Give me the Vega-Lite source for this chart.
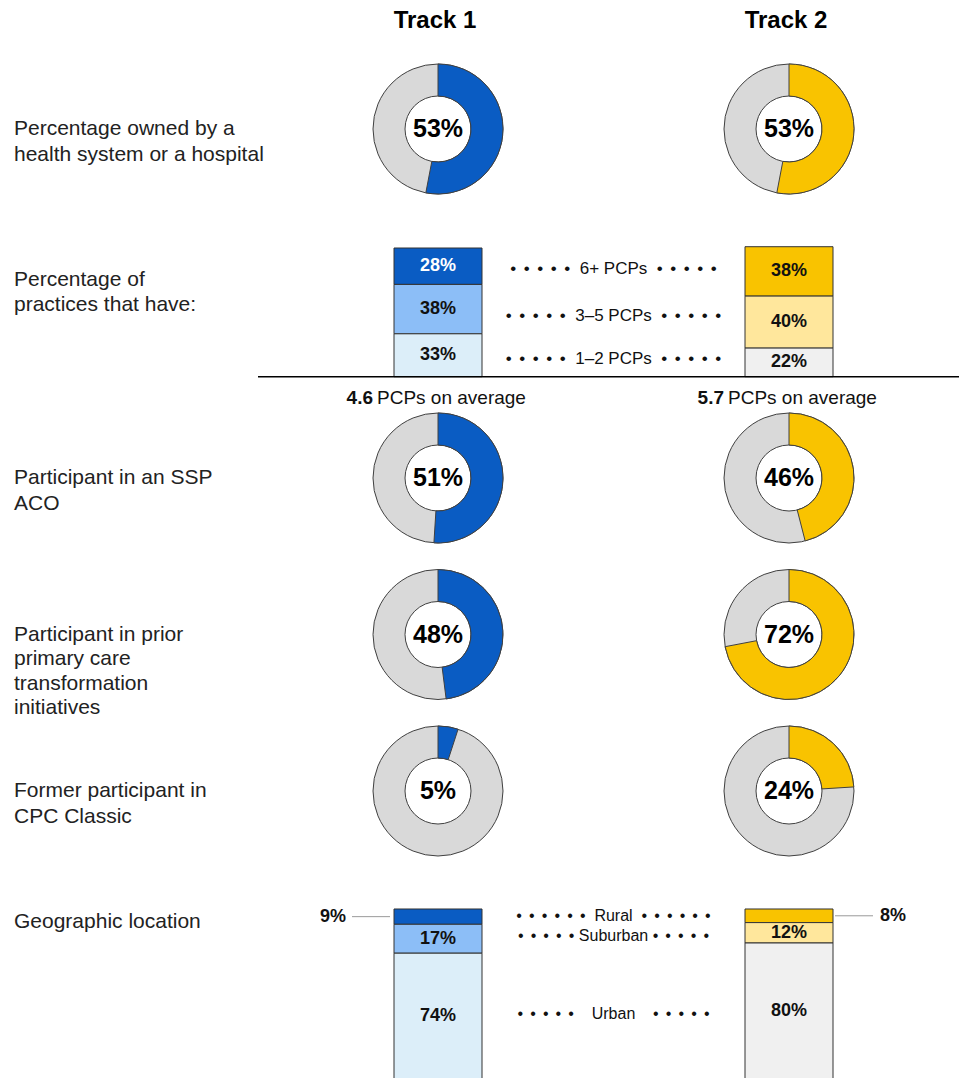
{
  "$schema": "https://vega.github.io/schema/vega-lite/v6.json",
  "background": "white",
  "padding": {"left": 14, "top": 0, "right": 0, "bottom": 0},
  "bounds": "flush",
  "spacing": 0,
  "config": {"view": {"stroke": null}, "concat": {"spacing": 0}, "text": {"color": "#111111"}},
  "datasets": {
    "donuts": [
      {"row": "owned", "track": "Track 1", "share": 0.53},
      {"row": "owned", "track": "Track 2", "share": 0.53},
      {"row": "ssp", "track": "Track 1", "share": 0.51},
      {"row": "ssp", "track": "Track 2", "share": 0.46},
      {"row": "prior", "track": "Track 1", "share": 0.48},
      {"row": "prior", "track": "Track 2", "share": 0.72},
      {"row": "cpc", "track": "Track 1", "share": 0.05},
      {"row": "cpc", "track": "Track 2", "share": 0.24}
    ],
    "practices": [
      {"track": "Track 1", "cat": "6+ PCPs", "share": 0.28},
      {"track": "Track 1", "cat": "3–5 PCPs", "share": 0.38},
      {"track": "Track 1", "cat": "1–2 PCPs", "share": 0.33},
      {"track": "Track 2", "cat": "6+ PCPs", "share": 0.38},
      {"track": "Track 2", "cat": "3–5 PCPs", "share": 0.40},
      {"track": "Track 2", "cat": "1–2 PCPs", "share": 0.22}
    ],
    "geo": [
      {"track": "Track 1", "cat": "Rural", "share": 0.09},
      {"track": "Track 1", "cat": "Suburban", "share": 0.17},
      {"track": "Track 1", "cat": "Urban", "share": 0.74},
      {"track": "Track 2", "cat": "Rural", "share": 0.08},
      {"track": "Track 2", "cat": "Suburban", "share": 0.12},
      {"track": "Track 2", "cat": "Urban", "share": 0.80}
    ],
    "averages": [
      {"track": "Track 1", "avg": 4.6},
      {"track": "Track 2", "avg": 5.7}
    ]
  },
  "vconcat": [
    {
      "width": 945, "height": 42,
      "data": {"values": [{"track": "Track 1"}, {"track": "Track 2"}]},
      "mark": {"type": "text", "font": "Liberation Sans, Arial, sans-serif", "fontWeight": "bold", "fontSize": 24, "baseline": "middle", "color": "#000000", "dx": -3},
      "encoding": {
        "x": {"field": "track", "type": "nominal", "scale": {"type": "point", "domain": ["Track 1", "between", "Track 2"], "range": [424, 775], "padding": 0}, "axis": null},
        "text": {"field": "track"}
      }
    },
    {
      "width": 945, "height": 174,
      "resolve": {"scale": {"x": "independent"}},
      "layer": [
        {"data": {"values": [{"label": "Percentage owned by a\nhealth system or a hospital"}]},
         "mark": {"type": "text", "align": "left", "baseline": "middle", "lineBreak": "\n", "fontSize": 21, "lineHeight": 25.5, "font": "Liberation Sans, Arial, sans-serif", "color": "#222222"},
         "encoding": {"x": {"datum": 0, "type": "quantitative", "scale": {"domain": [0, 1]}, "axis": null}, "text": {"field": "label"}}},
        {"data": {"name": "donuts"}, "transform": [{"filter": "datum.row === 'owned'"}],
         "mark": {"type": "arc", "outerRadius": 65, "innerRadius": 33, "fill": "#D9D9D9", "stroke": "#404040", "strokeWidth": 1},
         "encoding": {"x": {"field": "track", "type": "nominal", "scale": {"type": "point", "domain": ["Track 1", "between", "Track 2"], "range": [424, 775], "padding": 0}, "axis": null}}},
        {"data": {"name": "donuts"}, "transform": [{"filter": "datum.row === 'owned'"}],
         "mark": {"type": "arc", "outerRadius": 65, "innerRadius": 33, "stroke": "#404040", "strokeWidth": 1},
         "encoding": {
           "x": {"field": "track", "type": "nominal", "scale": {"type": "point", "domain": ["Track 1", "between", "Track 2"], "range": [424, 775], "padding": 0}, "axis": null},
           "theta": {"field": "share", "type": "quantitative", "stack": null, "scale": {"domain": [0, 1]}},
           "fill": {"field": "track", "type": "nominal", "scale": {"domain": ["Track 1", "Track 2"], "range": ["#0A5CC3", "#F9C300"]}, "legend": null}
         }},
        {"data": {"name": "donuts"}, "transform": [{"filter": "datum.row === 'owned'"}],
         "mark": {"type": "text", "font": "Liberation Sans, Arial, sans-serif", "fontWeight": "bold", "fontSize": 25, "baseline": "middle", "color": "#000000"},
         "encoding": {
           "x": {"field": "track", "type": "nominal", "scale": {"type": "point", "domain": ["Track 1", "between", "Track 2"], "range": [424, 775], "padding": 0}, "axis": null},
           "text": {"field": "share", "type": "quantitative", "format": ".0%"}
         }}
      ]
    },
    {
      "width": 945, "height": 127,
      "resolve": {"scale": {"x": "independent"}},
      "layer": [
        {"data": {"values": [{"label": "Percentage of\npractices that have:"}]},
         "mark": {"type": "text", "align": "left", "baseline": "middle", "lineBreak": "\n", "fontSize": 21, "lineHeight": 25.5, "font": "Liberation Sans, Arial, sans-serif", "color": "#222222"},
         "encoding": {"x": {"datum": 0, "type": "quantitative", "scale": {"domain": [0, 1]}, "axis": null}, "text": {"field": "label"}}},
        {"data": {"name": "practices"},
         "transform": [{"stack": "share", "groupby": ["track"], "sort": [{"field": "cat", "order": "ascending"}], "as": ["v0", "v1"]}],
         "mark": {"type": "bar", "width": 88, "stroke": "#333333", "strokeWidth": 1},
         "encoding": {
           "x": {"field": "track", "type": "nominal", "scale": {"type": "point", "domain": ["Track 1", "between", "Track 2"], "range": [424, 775], "padding": 0}, "axis": null},
           "y": {"field": "v0", "type": "quantitative", "scale": {"domain": [0.2593, 1.2362], "nice": false, "zero": false}, "axis": null},
           "y2": {"field": "v1"},
           "fill": {"condition": [
             {"test": "datum.track === 'Track 1' && datum.cat === '6+ PCPs'", "value": "#0A5CC3"},
             {"test": "datum.track === 'Track 1' && datum.cat === '3–5 PCPs'", "value": "#8CBEF7"},
             {"test": "datum.track === 'Track 1'", "value": "#DCEEF9"},
             {"test": "datum.cat === '6+ PCPs'", "value": "#F9C300"},
             {"test": "datum.cat === '3–5 PCPs'", "value": "#FFE79C"}
           ], "value": "#F0F0F0"}
         }},
        {"data": {"values": [{}]},
         "mark": {"type": "rule", "stroke": "#000000", "strokeWidth": 1.5, "xOffset": -180, "x2Offset": 170},
         "encoding": {
           "x": {"datum": "Track 1", "type": "nominal", "scale": {"type": "point", "domain": ["Track 1", "between", "Track 2"], "range": [424, 775], "padding": 0}, "axis": null},
           "x2": {"datum": "Track 2"},
           "y": {"datum": 0, "type": "quantitative", "scale": {"domain": [0.2593, 1.2362], "nice": false, "zero": false}, "axis": null}
         }},
        {"data": {"name": "practices"},
         "transform": [
           {"stack": "share", "groupby": ["track"], "sort": [{"field": "cat", "order": "ascending"}], "as": ["v0", "v1"]},
           {"fold": ["v0", "v1"], "as": ["edge", "pos"]},
           {"aggregate": [{"op": "mean", "field": "pos", "as": "mid"}, {"op": "max", "field": "share", "as": "share"}], "groupby": ["track", "cat"]}
         ],
         "mark": {"type": "text", "font": "Liberation Sans, Arial, sans-serif", "fontWeight": "bold", "fontSize": 18, "baseline": "middle"},
         "encoding": {
           "x": {"field": "track", "type": "nominal", "scale": {"type": "point", "domain": ["Track 1", "between", "Track 2"], "range": [424, 775], "padding": 0}, "axis": null},
           "y": {"field": "mid", "type": "quantitative", "scale": {"domain": [0.2593, 1.2362], "nice": false, "zero": false}, "axis": null},
           "text": {"field": "share", "type": "quantitative", "format": ".0%"},
           "color": {"condition": {"test": "datum.track === 'Track 1' && datum.cat === '6+ PCPs'", "value": "#FFFFFF"}, "value": "#111111"}
         }},
        {"data": {"name": "practices"},
         "transform": [
           {"stack": "share", "groupby": ["track"], "sort": [{"field": "cat", "order": "ascending"}], "as": ["v0", "v1"]},
           {"fold": ["v0", "v1"], "as": ["edge", "pos"]},
           {"aggregate": [{"op": "mean", "field": "pos", "as": "mid"}], "groupby": ["cat"]}
         ],
         "mark": {"type": "text", "font": "Liberation Sans, Arial, sans-serif", "fontSize": 17, "baseline": "middle", "color": "#111111",
                  "text": {"expr": "'\u2022 \u2006\u2022 \u2006\u2022 \u2006\u2022 \u2006\u2022\u00a0 ' + datum.cat + ' \u00a0\u2022 \u2006\u2022 \u2006\u2022 \u2006\u2022 \u2006\u2022'"}},
         "encoding": {
           "x": {"datum": "between", "type": "nominal", "scale": {"type": "point", "domain": ["Track 1", "between", "Track 2"], "range": [424, 775], "padding": 0}, "axis": null},
           "y": {"field": "mid", "type": "quantitative", "scale": {"domain": [0.2593, 1.2362], "nice": false, "zero": false}, "axis": null}
         }}
      ]
    },
    {
      "width": 945, "height": 110,
      "data": {"name": "averages"},
      "layer": [
        {"mark": {"type": "text", "align": "right", "dx": -65, "fontWeight": "bold", "fontSize": 19, "font": "Liberation Sans, Arial, sans-serif", "baseline": "middle"},
         "encoding": {
           "x": {"field": "track", "type": "nominal", "scale": {"type": "point", "domain": ["Track 1", "between", "Track 2"], "range": [424, 775], "padding": 0}, "axis": null},
           "text": {"field": "avg", "type": "quantitative", "format": ".1f"}
         }},
        {"mark": {"type": "text", "align": "left", "dx": -61, "fontSize": 19, "font": "Liberation Sans, Arial, sans-serif", "baseline": "middle", "text": "PCPs on average"},
         "encoding": {
           "x": {"field": "track", "type": "nominal", "scale": {"type": "point", "domain": ["Track 1", "between", "Track 2"], "range": [424, 775], "padding": 0}, "axis": null}
         }}
      ]
    },
    {
      "width": 945, "height": 50,
      "resolve": {"scale": {"x": "independent"}},
      "layer": [
        {"data": {"values": [{"label": "Participant in an SSP\nACO"}]},
         "mark": {"type": "text", "align": "left", "baseline": "middle", "lineBreak": "\n", "fontSize": 21, "lineHeight": 25.5, "font": "Liberation Sans, Arial, sans-serif", "color": "#222222"},
         "encoding": {"x": {"datum": 0, "type": "quantitative", "scale": {"domain": [0, 1]}, "axis": null}, "text": {"field": "label"}}},
        {"data": {"name": "donuts"}, "transform": [{"filter": "datum.row === 'ssp'"}],
         "mark": {"type": "arc", "outerRadius": 65, "innerRadius": 33, "fill": "#D9D9D9", "stroke": "#404040", "strokeWidth": 1},
         "encoding": {"x": {"field": "track", "type": "nominal", "scale": {"type": "point", "domain": ["Track 1", "between", "Track 2"], "range": [424, 775], "padding": 0}, "axis": null}}},
        {"data": {"name": "donuts"}, "transform": [{"filter": "datum.row === 'ssp'"}],
         "mark": {"type": "arc", "outerRadius": 65, "innerRadius": 33, "stroke": "#404040", "strokeWidth": 1},
         "encoding": {
           "x": {"field": "track", "type": "nominal", "scale": {"type": "point", "domain": ["Track 1", "between", "Track 2"], "range": [424, 775], "padding": 0}, "axis": null},
           "theta": {"field": "share", "type": "quantitative", "stack": null, "scale": {"domain": [0, 1]}},
           "fill": {"field": "track", "type": "nominal", "scale": {"domain": ["Track 1", "Track 2"], "range": ["#0A5CC3", "#F9C300"]}, "legend": null}
         }},
        {"data": {"name": "donuts"}, "transform": [{"filter": "datum.row === 'ssp'"}],
         "mark": {"type": "text", "font": "Liberation Sans, Arial, sans-serif", "fontWeight": "bold", "fontSize": 25, "baseline": "middle", "color": "#000000"},
         "encoding": {
           "x": {"field": "track", "type": "nominal", "scale": {"type": "point", "domain": ["Track 1", "between", "Track 2"], "range": [424, 775], "padding": 0}, "axis": null},
           "text": {"field": "share", "type": "quantitative", "format": ".0%"}
         }}
      ]
    },
    {
      "width": 945, "height": 263,
      "resolve": {"scale": {"x": "independent"}},
      "layer": [
        {"data": {"values": [{"label": "Participant in prior\nprimary care\ntransformation\ninitiatives"}]},
         "mark": {"type": "text", "align": "left", "baseline": "middle", "lineBreak": "\n", "fontSize": 21, "lineHeight": 24.5, "font": "Liberation Sans, Arial, sans-serif", "color": "#222222"},
         "encoding": {"x": {"datum": 0, "type": "quantitative", "scale": {"domain": [0, 1]}, "axis": null}, "text": {"field": "label"}}},
        {"data": {"name": "donuts"}, "transform": [{"filter": "datum.row === 'prior'"}],
         "mark": {"type": "arc", "outerRadius": 65, "innerRadius": 33, "fill": "#D9D9D9", "stroke": "#404040", "strokeWidth": 1},
         "encoding": {"x": {"field": "track", "type": "nominal", "scale": {"type": "point", "domain": ["Track 1", "between", "Track 2"], "range": [424, 775], "padding": 0}, "axis": null}}},
        {"data": {"name": "donuts"}, "transform": [{"filter": "datum.row === 'prior'"}],
         "mark": {"type": "arc", "outerRadius": 65, "innerRadius": 33, "stroke": "#404040", "strokeWidth": 1},
         "encoding": {
           "x": {"field": "track", "type": "nominal", "scale": {"type": "point", "domain": ["Track 1", "between", "Track 2"], "range": [424, 775], "padding": 0}, "axis": null},
           "theta": {"field": "share", "type": "quantitative", "stack": null, "scale": {"domain": [0, 1]}},
           "fill": {"field": "track", "type": "nominal", "scale": {"domain": ["Track 1", "Track 2"], "range": ["#0A5CC3", "#F9C300"]}, "legend": null}
         }},
        {"data": {"name": "donuts"}, "transform": [{"filter": "datum.row === 'prior'"}],
         "mark": {"type": "text", "font": "Liberation Sans, Arial, sans-serif", "fontWeight": "bold", "fontSize": 25, "baseline": "middle", "color": "#000000"},
         "encoding": {
           "x": {"field": "track", "type": "nominal", "scale": {"type": "point", "domain": ["Track 1", "between", "Track 2"], "range": [424, 775], "padding": 0}, "axis": null},
           "text": {"field": "share", "type": "quantitative", "format": ".0%"}
         }}
      ]
    },
    {
      "width": 945, "height": 50,
      "resolve": {"scale": {"x": "independent"}},
      "layer": [
        {"data": {"values": [{"label": "Former participant in\nCPC Classic"}]},
         "mark": {"type": "text", "align": "left", "baseline": "middle", "lineBreak": "\n", "fontSize": 21, "lineHeight": 25.5, "font": "Liberation Sans, Arial, sans-serif", "color": "#222222"},
         "encoding": {"x": {"datum": 0, "type": "quantitative", "scale": {"domain": [0, 1]}, "axis": null}, "text": {"field": "label"}}},
        {"data": {"name": "donuts"}, "transform": [{"filter": "datum.row === 'cpc'"}],
         "mark": {"type": "arc", "outerRadius": 65, "innerRadius": 33, "fill": "#D9D9D9", "stroke": "#404040", "strokeWidth": 1},
         "encoding": {"x": {"field": "track", "type": "nominal", "scale": {"type": "point", "domain": ["Track 1", "between", "Track 2"], "range": [424, 775], "padding": 0}, "axis": null}}},
        {"data": {"name": "donuts"}, "transform": [{"filter": "datum.row === 'cpc'"}],
         "mark": {"type": "arc", "outerRadius": 65, "innerRadius": 33, "stroke": "#404040", "strokeWidth": 1},
         "encoding": {
           "x": {"field": "track", "type": "nominal", "scale": {"type": "point", "domain": ["Track 1", "between", "Track 2"], "range": [424, 775], "padding": 0}, "axis": null},
           "theta": {"field": "share", "type": "quantitative", "stack": null, "scale": {"domain": [0, 1]}},
           "fill": {"field": "track", "type": "nominal", "scale": {"domain": ["Track 1", "Track 2"], "range": ["#0A5CC3", "#F9C300"]}, "legend": null}
         }},
        {"data": {"name": "donuts"}, "transform": [{"filter": "datum.row === 'cpc'"}],
         "mark": {"type": "text", "font": "Liberation Sans, Arial, sans-serif", "fontWeight": "bold", "fontSize": 25, "baseline": "middle", "color": "#000000"},
         "encoding": {
           "x": {"field": "track", "type": "nominal", "scale": {"type": "point", "domain": ["Track 1", "between", "Track 2"], "range": [424, 775], "padding": 0}, "axis": null},
           "text": {"field": "share", "type": "quantitative", "format": ".0%"}
         }}
      ]
    },
    {
      "width": 945, "height": 212,
      "resolve": {"scale": {"x": "independent"}},
      "layer": [
        {"data": {"values": [{"label": "Geographic location"}]},
         "mark": {"type": "text", "align": "left", "baseline": "middle", "fontSize": 21, "font": "Liberation Sans, Arial, sans-serif", "color": "#222222"},
         "encoding": {"x": {"datum": 0, "type": "quantitative", "scale": {"domain": [0, 1]}, "axis": null}, "text": {"field": "label"}}},
        {"data": {"name": "geo"},
         "transform": [{"stack": "share", "groupby": ["track"], "sort": [{"field": "cat", "order": "descending"}], "as": ["v0", "v1"]}],
         "mark": {"type": "bar", "width": 88, "stroke": "#333333", "strokeWidth": 1},
         "encoding": {
           "x": {"field": "track", "type": "nominal", "scale": {"type": "point", "domain": ["Track 1", "between", "Track 2"], "range": [424, 775], "padding": 0}, "axis": null},
           "y": {"field": "v0", "type": "quantitative", "scale": {"domain": [0.3, 1.547], "nice": false, "zero": false}, "axis": null},
           "y2": {"field": "v1"},
           "fill": {"condition": [
             {"test": "datum.track === 'Track 1' && datum.cat === 'Rural'", "value": "#0A5CC3"},
             {"test": "datum.track === 'Track 1' && datum.cat === 'Suburban'", "value": "#8CBEF7"},
             {"test": "datum.track === 'Track 1'", "value": "#DCEEF9"},
             {"test": "datum.cat === 'Rural'", "value": "#F9C300"},
             {"test": "datum.cat === 'Suburban'", "value": "#FFE79C"}
           ], "value": "#F0F0F0"}
         }},
        {"data": {"name": "geo"},
         "transform": [
           {"stack": "share", "groupby": ["track"], "sort": [{"field": "cat", "order": "descending"}], "as": ["v0", "v1"]},
           {"fold": ["v0", "v1"], "as": ["edge", "pos"]},
           {"aggregate": [{"op": "mean", "field": "pos", "as": "mid"}, {"op": "max", "field": "share", "as": "share"}], "groupby": ["track", "cat"]},
           {"filter": "datum.cat !== 'Rural'"}
         ],
         "mark": {"type": "text", "font": "Liberation Sans, Arial, sans-serif", "fontWeight": "bold", "fontSize": 18, "baseline": "middle", "color": "#111111"},
         "encoding": {
           "x": {"field": "track", "type": "nominal", "scale": {"type": "point", "domain": ["Track 1", "between", "Track 2"], "range": [424, 775], "padding": 0}, "axis": null},
           "y": {"field": "mid", "type": "quantitative", "scale": {"domain": [0.3, 1.547], "nice": false, "zero": false}, "axis": null},
           "text": {"field": "share", "type": "quantitative", "format": ".0%"}
         }},
        {"data": {"name": "geo"},
         "transform": [
           {"stack": "share", "groupby": ["track"], "sort": [{"field": "cat", "order": "descending"}], "as": ["v0", "v1"]},
           {"fold": ["v0", "v1"], "as": ["edge", "pos"]},
           {"aggregate": [{"op": "mean", "field": "pos", "as": "mid"}, {"op": "max", "field": "share", "as": "share"}], "groupby": ["track", "cat"]},
           {"filter": "datum.cat === 'Rural' && datum.track === 'Track 1'"}
         ],
         "mark": {"type": "rule", "stroke": "#9A9A9A", "strokeWidth": 1, "xOffset": -86, "x2Offset": -48},
         "encoding": {
           "x": {"field": "track", "type": "nominal", "scale": {"type": "point", "domain": ["Track 1", "between", "Track 2"], "range": [424, 775], "padding": 0}, "axis": null},
           "x2": {"field": "track"},
           "y": {"field": "mid", "type": "quantitative", "scale": {"domain": [0.3, 1.547], "nice": false, "zero": false}, "axis": null}
         }},
        {"data": {"name": "geo"},
         "transform": [
           {"stack": "share", "groupby": ["track"], "sort": [{"field": "cat", "order": "descending"}], "as": ["v0", "v1"]},
           {"fold": ["v0", "v1"], "as": ["edge", "pos"]},
           {"aggregate": [{"op": "mean", "field": "pos", "as": "mid"}, {"op": "max", "field": "share", "as": "share"}], "groupby": ["track", "cat"]},
           {"filter": "datum.cat === 'Rural' && datum.track === 'Track 1'"}
         ],
         "mark": {"type": "text", "align": "right", "dx": -92, "font": "Liberation Sans, Arial, sans-serif", "fontWeight": "bold", "fontSize": 18, "baseline": "middle", "color": "#111111"},
         "encoding": {
           "x": {"field": "track", "type": "nominal", "scale": {"type": "point", "domain": ["Track 1", "between", "Track 2"], "range": [424, 775], "padding": 0}, "axis": null},
           "y": {"field": "mid", "type": "quantitative", "scale": {"domain": [0.3, 1.547], "nice": false, "zero": false}, "axis": null},
           "text": {"field": "share", "type": "quantitative", "format": ".0%"}
         }},
        {"data": {"name": "geo"},
         "transform": [
           {"stack": "share", "groupby": ["track"], "sort": [{"field": "cat", "order": "descending"}], "as": ["v0", "v1"]},
           {"fold": ["v0", "v1"], "as": ["edge", "pos"]},
           {"aggregate": [{"op": "mean", "field": "pos", "as": "mid"}, {"op": "max", "field": "share", "as": "share"}], "groupby": ["track", "cat"]},
           {"filter": "datum.cat === 'Rural' && datum.track === 'Track 2'"}
         ],
         "mark": {"type": "rule", "stroke": "#9A9A9A", "strokeWidth": 1, "xOffset": 46, "x2Offset": 84},
         "encoding": {
           "x": {"field": "track", "type": "nominal", "scale": {"type": "point", "domain": ["Track 1", "between", "Track 2"], "range": [424, 775], "padding": 0}, "axis": null},
           "x2": {"field": "track"},
           "y": {"field": "mid", "type": "quantitative", "scale": {"domain": [0.3, 1.547], "nice": false, "zero": false}, "axis": null}
         }},
        {"data": {"name": "geo"},
         "transform": [
           {"stack": "share", "groupby": ["track"], "sort": [{"field": "cat", "order": "descending"}], "as": ["v0", "v1"]},
           {"fold": ["v0", "v1"], "as": ["edge", "pos"]},
           {"aggregate": [{"op": "mean", "field": "pos", "as": "mid"}, {"op": "max", "field": "share", "as": "share"}], "groupby": ["track", "cat"]},
           {"filter": "datum.cat === 'Rural' && datum.track === 'Track 2'"}
         ],
         "mark": {"type": "text", "align": "left", "dx": 91, "font": "Liberation Sans, Arial, sans-serif", "fontWeight": "bold", "fontSize": 18, "baseline": "middle", "color": "#111111"},
         "encoding": {
           "x": {"field": "track", "type": "nominal", "scale": {"type": "point", "domain": ["Track 1", "between", "Track 2"], "range": [424, 775], "padding": 0}, "axis": null},
           "y": {"field": "mid", "type": "quantitative", "scale": {"domain": [0.3, 1.547], "nice": false, "zero": false}, "axis": null},
           "text": {"field": "share", "type": "quantitative", "format": ".0%"}
         }},
        {"data": {"name": "geo"},
         "transform": [
           {"stack": "share", "groupby": ["track"], "sort": [{"field": "cat", "order": "descending"}], "as": ["v0", "v1"]},
           {"fold": ["v0", "v1"], "as": ["edge", "pos"]},
           {"aggregate": [{"op": "mean", "field": "pos", "as": "mid"}], "groupby": ["cat"]}
         ],
         "mark": {"type": "text", "font": "Liberation Sans, Arial, sans-serif", "fontSize": 16, "baseline": "middle", "color": "#111111",
                  "text": {"expr": "datum.cat === 'Rural' ? '\u2022 \u2006\u2022 \u2006\u2022 \u2006\u2022 \u2006\u2022 \u2006\u2022\u00a0 Rural \u00a0\u2022 \u2006\u2022 \u2006\u2022 \u2006\u2022 \u2006\u2022 \u2006\u2022' : datum.cat === 'Suburban' ? '\u2022 \u2006\u2022 \u2006\u2022 \u2006\u2022 \u2006\u2022 Suburban \u2022 \u2006\u2022 \u2006\u2022 \u2006\u2022 \u2006\u2022' : '\u2022 \u2006\u2022 \u2006\u2022 \u2006\u2022 \u2006\u2022\u00a0\u00a0\u00a0 Urban \u00a0\u00a0\u00a0\u2022 \u2006\u2022 \u2006\u2022 \u2006\u2022 \u2006\u2022'"}},
         "encoding": {
           "x": {"datum": "between", "type": "nominal", "scale": {"type": "point", "domain": ["Track 1", "between", "Track 2"], "range": [424, 775], "padding": 0}, "axis": null},
           "y": {"field": "mid", "type": "quantitative", "scale": {"domain": [0.3, 1.547], "nice": false, "zero": false}, "axis": null}
         }}
      ]
    }
  ]
}
